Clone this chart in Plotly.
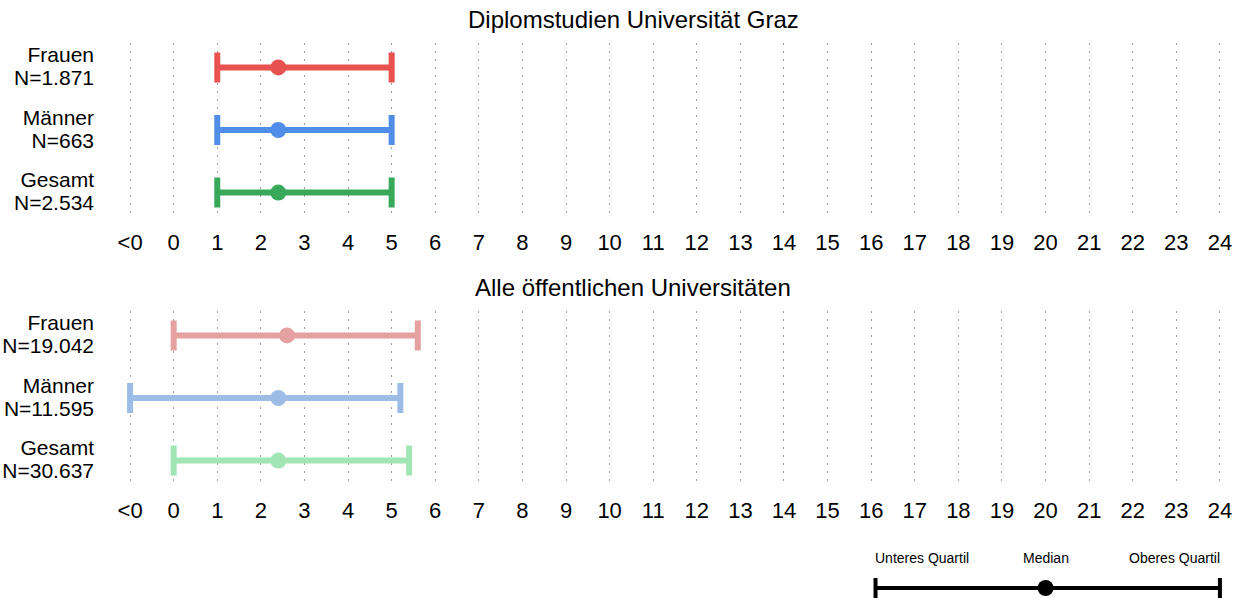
import plotly.graph_objects as go

# ---------------- data ----------------
groups = ["Frauen", "Männer", "Gesamt"]
n_graz = ["1.871", "663", "2.534"]
n_all = ["19.042", "11.595", "30.637"]

q1_graz = [1.0, 1.0, 1.0]
med_graz = [2.4, 2.4, 2.4]
q3_graz = [5.0, 5.0, 5.0]

q1_all = [0.0, -1.0, 0.0]
med_all = [2.6, 2.4, 2.4]
q3_all = [5.6, 5.2, 5.4]

tick_vals = list(range(-1, 25))
tick_text = ["<0"] + [str(i) for i in range(0, 25)]

titles = ["Diplomstudien Universität Graz", "Alle öffentlichen Universitäten"]
colors_graz = ["#E8524F", "#508DE9", "#38A85A"]
colors_all = ["#E4A1A0", "#9EBDE6", "#A2E5B4"]

legend_vals = [16.1, 20.0, 24.0]  # Q1, median, Q3 of the key
legend_labels = ["Unteres Quartil", "Median", "Oberes Quartil"]

# ---------------- figure ----------------
W, H = 1244, 598
FONT = "Liberation Sans, Arial, sans-serif"


def py(px):
    return 1 - px / H


fig = go.Figure()

panels = [
    (q1_graz, med_graz, q3_graz, n_graz, colors_graz, "x", "y"),
    (q1_all, med_all, q3_all, n_all, colors_all, "x2", "y2"),
]
for q1, med, q3, ns, cols, xa, ya in panels:
    labels = [f"<span style='font-size:21px'>{g}<br>N={n}</span>" for g, n in zip(groups, ns)]
    for i in range(len(groups)):
        fig.add_trace(go.Scatter(
            x=[med[i]], y=[labels[i]], xaxis=xa, yaxis=ya,
            mode="markers",
            marker=dict(color=cols[i], size=16, line=dict(width=0)),
            error_x=dict(type="data", symmetric=False,
                         array=[q3[i] - med[i]], arrayminus=[med[i] - q1[i]],
                         color=cols[i], thickness=6, width=15),
            showlegend=False, hoverinfo="skip", cliponaxis=False,
        ))

# key
fig.add_trace(go.Scatter(
    x=[legend_vals[1]], y=[0.5], xaxis="x3", yaxis="y3", mode="markers",
    marker=dict(color="black", size=16),
    error_x=dict(type="data", symmetric=False,
                 array=[legend_vals[2] - legend_vals[1]],
                 arrayminus=[legend_vals[1] - legend_vals[0]],
                 color="black", thickness=4, width=10),
    showlegend=False, hoverinfo="skip", cliponaxis=False,
))

xdom = [117 / W, 1233 / W]
xrange_ = [-1.3, 24.3]
xcommon = dict(range=xrange_, domain=xdom, tickmode="array", tickvals=tick_vals,
               ticktext=tick_text, showgrid=True, gridcolor="#a0a0a0", gridwidth=1,
               griddash="2px,6px", zeroline=False, showline=False, ticks="",
               tickfont=dict(family=FONT, size=22, color="black"),
               ticklabelstandoff=10, fixedrange=True)
ycommon = dict(autorange=False, range=[2.39, -0.39], showgrid=False, zeroline=False,
               showline=False, ticks="", type="category",
               tickfont=dict(family=FONT, size=17.5, color="black"),
               ticklabelstandoff=22, fixedrange=True)

fig.update_layout(
    width=W, height=H,
    margin=dict(l=0, r=0, t=0, b=0),
    paper_bgcolor="white", plot_bgcolor="white",
    font=dict(family=FONT, color="black"),
    xaxis=dict(**xcommon, anchor="y"),
    yaxis=dict(**ycommon, domain=[py(217), py(43)], anchor="x"),
    xaxis2=dict(**xcommon, anchor="y2"),
    yaxis2=dict(**ycommon, domain=[py(485), py(311)], anchor="x2"),
    xaxis3=dict(range=xrange_, domain=xdom, visible=False, anchor="y3", fixedrange=True),
    yaxis3=dict(range=[0, 1], domain=[0, py(578)], visible=False, anchor="x3", fixedrange=True),
)

for t, ypx in zip(titles, [20, 287]):
    fig.add_annotation(text=t, xref="paper", yref="paper", x=633 / W, y=py(ypx),
                       showarrow=False, xanchor="center", yanchor="middle",
                       font=dict(family=FONT, size=24, color="black"))

anchors = ["left", "center", "right"]
shifts = [-3, 0, 2]
for v, lab, a, s in zip(legend_vals, legend_labels, anchors, shifts):
    fig.add_annotation(text=lab, xref="x3", yref="paper", x=v, y=py(558),
                       xshift=s, showarrow=False, xanchor=a, yanchor="middle",
                       font=dict(family=FONT, size=14, color="black"))

fig.write_html("out.html", config={"displayModeBar": False},
               post_script="document.body.style.margin='0px';document.body.style.overflow='hidden';")
